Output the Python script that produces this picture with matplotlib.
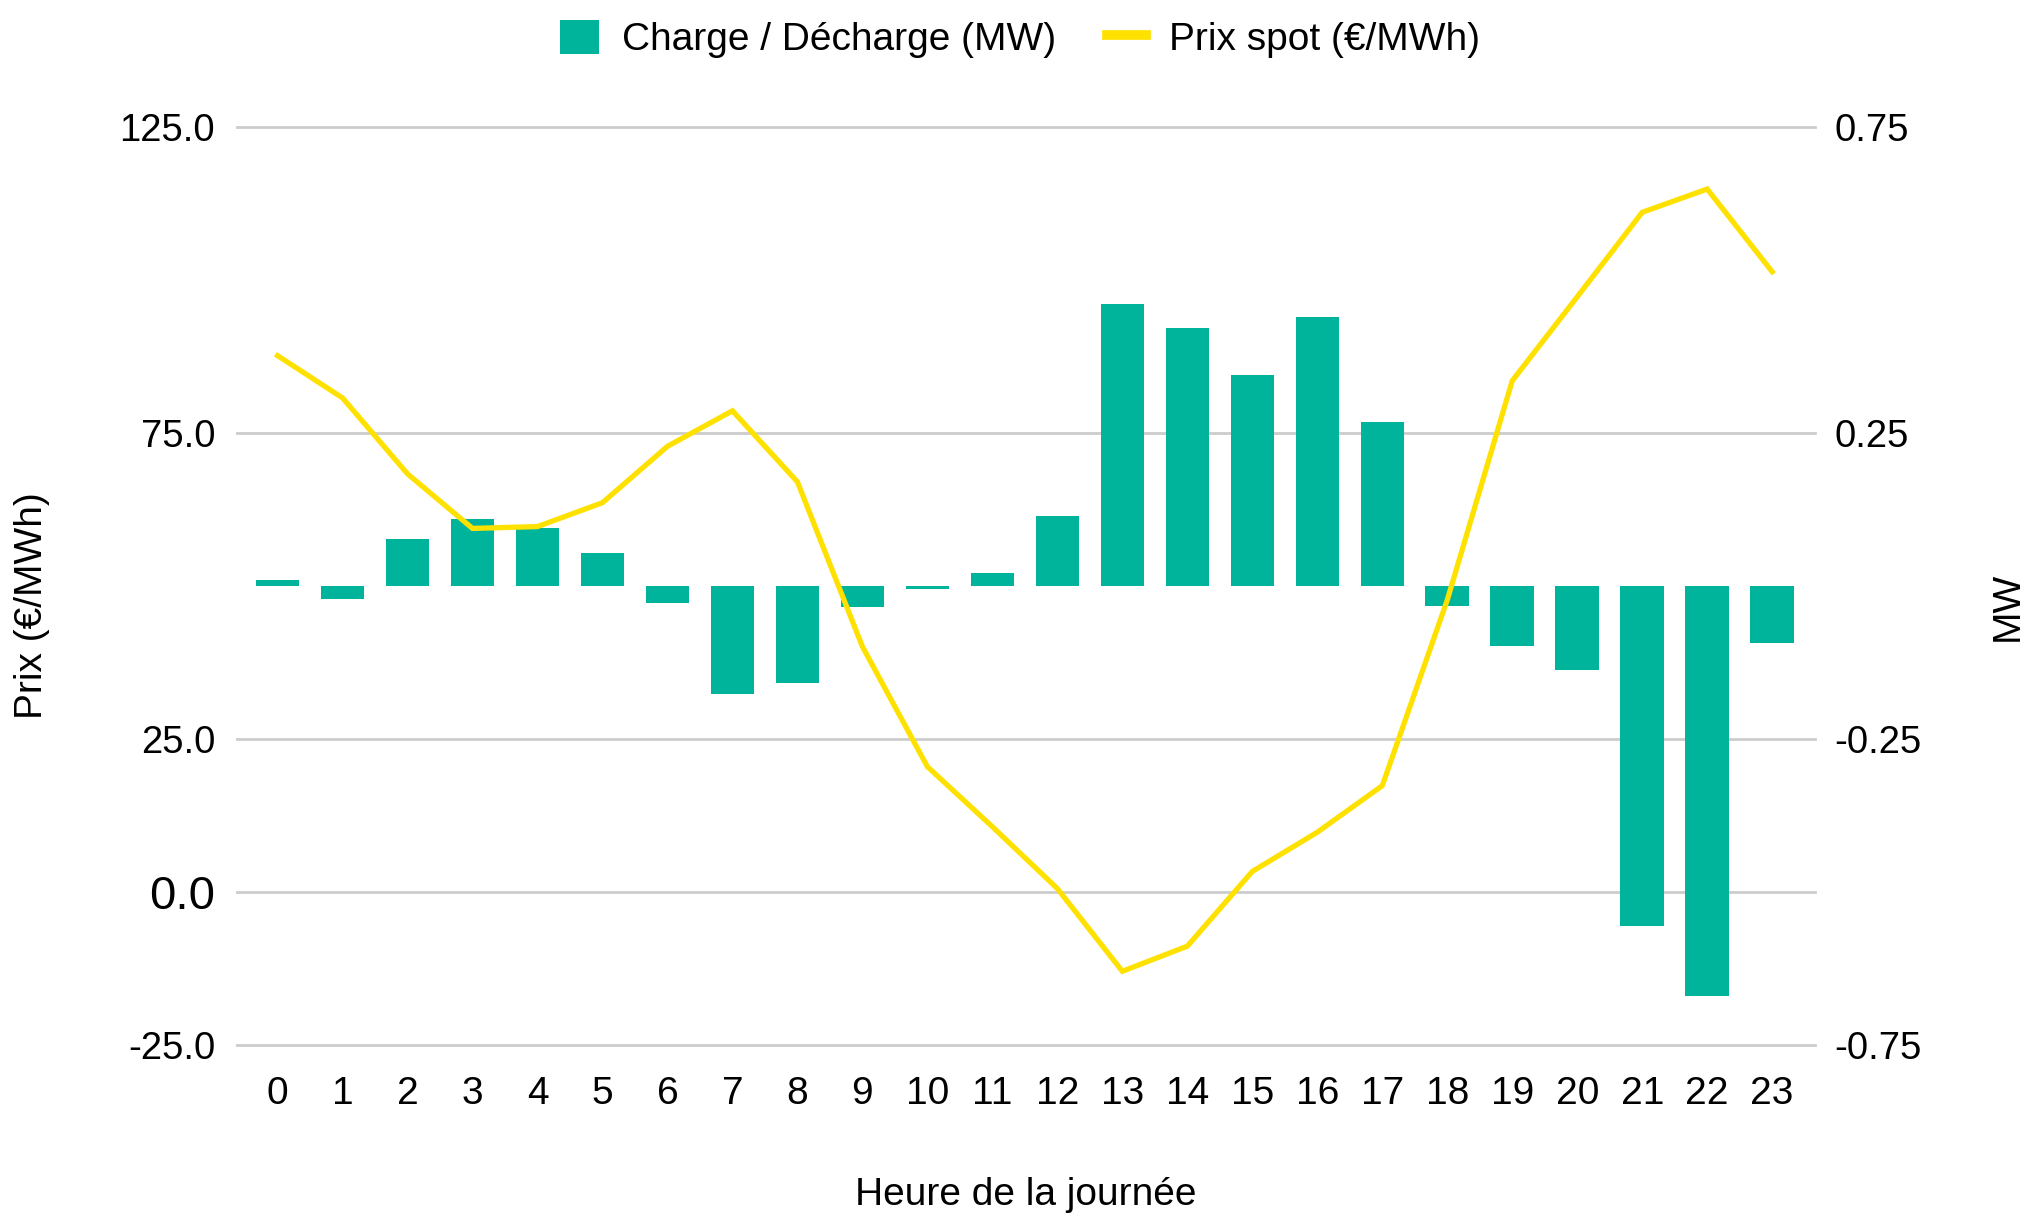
import matplotlib.pyplot as plt
from matplotlib.patches import Patch
from matplotlib.lines import Line2D

plt.rcParams['font.family'] = ['Liberation Sans', 'DejaVu Sans']

# hours of the day
hours = list(range(24))

# battery charge / discharge (MW), right axis
charge_mw = [0.009, -0.022, 0.076, 0.110, 0.094, 0.054, -0.027, -0.177,
             -0.159, -0.034, -0.005, 0.022, 0.115, 0.461, 0.421, 0.344,
             0.439, 0.267, -0.032, -0.098, -0.137, -0.555, -0.670, -0.093]

# spot price (EUR/MWh), left axis
spot_price = [87.6, 80.7, 68.3, 59.4, 59.7, 63.6, 72.8, 78.6, 67.0, 40.1,
              20.5, 10.7, 0.6, -12.9, -8.8, 3.4, 9.8, 17.4, 47.7, 83.5,
              97.2, 111.0, 114.8, 101.3]

price_ticks = [-25, 0, 25, 75, 125]
mw_ticks = [-0.75, -0.25, 0.25, 0.75]

teal = '#00B39B'
yellow = '#FFE100'
grid_col = '#CCCCCC'

fig = plt.figure(figsize=(20.28, 12.17), dpi=100)
ax = fig.add_axes([0.117, 0.141, 0.778, 0.755])
ax2 = ax.twinx()

p_lo, p_hi = -25, 125
m_lo, m_hi = -0.75, 0.75
ax.set_ylim(m_lo, m_hi)
ax2.set_ylim(p_lo, p_hi)
ax.set_xlim(-0.62, 23.66)

# price gridlines drawn on the bar axis so they sit behind the bars
for p in price_ticks:
    y = m_lo + (p - p_lo) / (p_hi - p_lo) * (m_hi - m_lo)
    ax.axhline(y, color=grid_col, lw=2, zorder=0, clip_on=False)

ax.bar(hours, charge_mw, width=0.67, color=teal, zorder=2)
ax2.plot(hours, spot_price, color=yellow, lw=3.8, solid_joinstyle='miter', zorder=3)

for a in (ax, ax2):
    for s in a.spines.values():
        s.set_visible(False)
    a.tick_params(length=0)

ax.set_xticks(hours, labels=[str(h) for h in hours])
ax.tick_params(axis='x', labelsize=28, pad=22)

ax.yaxis.tick_right()
ax.set_yticks(mw_ticks, labels=[f'{v:.2f}' for v in mw_ticks])
ax.tick_params(axis='y', labelsize=27.5, pad=14)

ax2.yaxis.tick_left()
ax2.set_yticks(price_ticks, labels=[f'{v:.1f}' for v in price_ticks])
ax2.tick_params(axis='y', labelsize=27.5, pad=16)
for lbl in ax2.get_yticklabels():
    if lbl.get_text() == '0.0':
        lbl.set_fontsize(34)

fig.text(0.016, 0.502, 'Prix (€/MWh)', rotation=90, ha='center', va='center', fontsize=28)
fig.text(0.990, 0.502, 'MW', rotation=90, ha='center', va='center', fontsize=28)
fig.text(0.506, 0.018, 'Heure de la journée', ha='center', va='center', fontsize=28)

handles = [Patch(facecolor=teal, edgecolor='none'),
           Line2D([0], [0], color=yellow, lw=7)]
fig.legend(handles, ['Charge / Décharge (MW)', 'Prix spot (€/MWh)'],
           loc='center', bbox_to_anchor=(0.503, 0.968), ncol=2, frameon=False,
           fontsize=28, handlelength=1.0, handleheight=1.0,
           handletextpad=0.6, columnspacing=1.3)

fig.savefig('out.png', dpi=100)
